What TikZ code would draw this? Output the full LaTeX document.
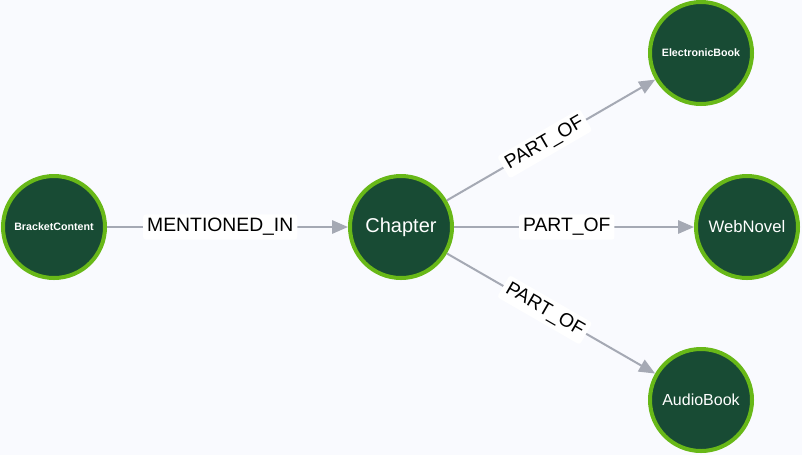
\documentclass[tikz,border=0pt]{standalone}
\usepackage{fontspec}
\setmainfont{Liberation Sans}
\usetikzlibrary{arrows.meta}

\definecolor{bgc}{HTML}{F9FAFE}
\definecolor{nodefill}{HTML}{184B34}
\definecolor{nodering}{HTML}{68B818}
\definecolor{edgegray}{HTML}{A5A9B4}

\begin{document}
\begin{tikzpicture}[x=0.75pt,y=-0.75pt,
  ent/.style={circle,draw=nodering,fill=nodefill,line width=3pt,
    minimum size=76.5pt,inner sep=0pt,text=white},
  rel/.style={draw=edgegray,line width=1.5pt,
    -{Triangle[length=12pt,width=10pt]}},
  lbl/.style={fill=white,rounded corners=2pt,inner xsep=3pt,inner ysep=3pt,
    text=black,font=\fontsize{14.5}{16}\selectfont,pos=0.47}]
  \fill[bgc] (0,0) rectangle (802,455);
  \useasboundingbox (0,0) rectangle (802,455);
  \node[ent,font=\fontsize{8}{9}\selectfont\bfseries] (BC) at (54,227) {BracketContent};
  \node[ent,font=\fontsize{15}{17}\selectfont] (CH) at (401,227) {Chapter};
  \node[ent,font=\fontsize{8}{10}\selectfont\bfseries] (EB) at (701,53) {ElectronicBook};
  \node[ent,font=\fontsize{12.5}{14}\selectfont] (WN) at (747,227) {WebNovel};
  \node[ent,font=\fontsize{12}{14}\selectfont] (AB) at (701,400) {AudioBook};
  \draw[rel] (BC) -- node[lbl] {MENTIONED\_IN} (CH);
  \draw[rel] (CH) -- node[lbl,sloped] {PART\_OF} (EB);
  \draw[rel] (CH) -- node[lbl] {PART\_OF} (WN);
  \draw[rel] (CH) -- node[lbl,sloped] {PART\_OF} (AB);
\end{tikzpicture}
\end{document}
